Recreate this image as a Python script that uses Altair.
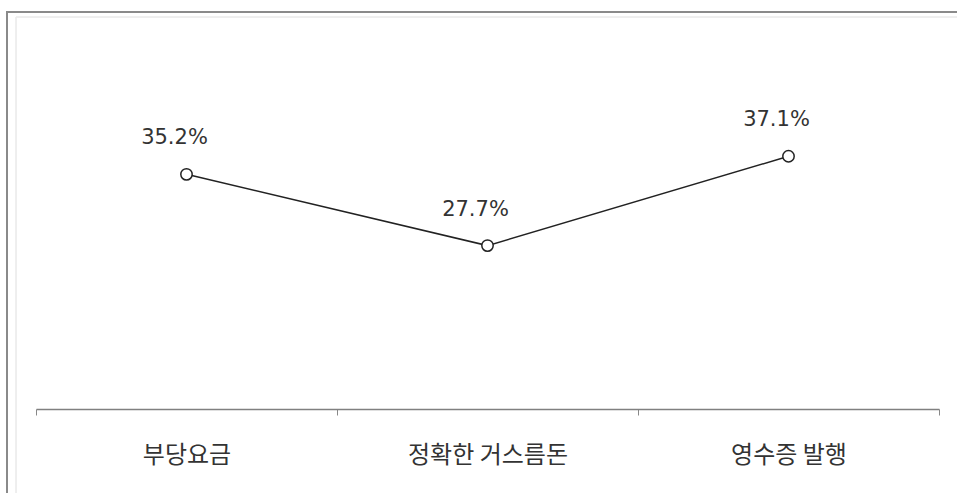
import altair as alt
import pandas as pd

# Survey result by category (percent)
categories = ["부당요금", "정확한 거스름돈", "영수증 발행"]
values = [35.2, 27.7, 37.1]
value_labels = ["35.2%", "27.7%", "37.1%"]

df = pd.DataFrame({"category": categories, "value": values, "label": value_labels})

x_enc = alt.X(
    "category:N",
    sort=categories,
    scale=alt.Scale(paddingInner=0, paddingOuter=0),
    axis=alt.Axis(
        title=None,
        labelAngle=0,
        labelFont="Noto Sans CJK KR",
        labelFontSize=24,
        labelColor="#333333",
        labelPadding=28,
        tickBand="extent",
        tickSize=6,
        tickColor="#888888",
        domainColor="#808080",
        domainWidth=1.5,
        grid=False,
    ),
)
y_enc = alt.Y("value:Q", scale=alt.Scale(domain=[10.5, 50.5], zero=False), axis=None)

base = alt.Chart(df)

# Outer frame drawn around the whole figure
frame = base.mark_rect(fill=None, stroke="#8a8a8a", strokeWidth=2).encode(
    x=alt.value(-29), x2=alt.value(930), y=alt.value(-17), y2=alt.value(470)
)
inner_frame = base.mark_rect(fill=None, stroke="#ececec", strokeWidth=1).encode(
    x=alt.value(-20), x2=alt.value(930), y=alt.value(-12), y2=alt.value(470)
)

line = base.mark_line(color="#222222", strokeWidth=1.5).encode(x=x_enc, y=y_enc)

points = base.mark_point(
    shape="circle", filled=True, fill="white", stroke="#222222",
    strokeWidth=1.5, size=130, opacity=1
).encode(x=x_enc, y=y_enc)

labels = base.mark_text(
    font="DejaVu Sans", fontSize=21, color="#333333", dx=-12, dy=-36, baseline="middle"
).encode(x=x_enc, y=y_enc, text="label:N")

chart = (
    alt.layer(frame, inner_frame, line, points, labels)
    .properties(
        width=903,
        height=380,
        autosize=alt.AutoSizeParams(type="none"),
        padding={"left": 36, "top": 29, "right": 18, "bottom": 84},
        background="white",
    )
    .configure_view(stroke=None)
)

chart.save("out.html", embed_options={"renderer": "svg", "actions": False})
